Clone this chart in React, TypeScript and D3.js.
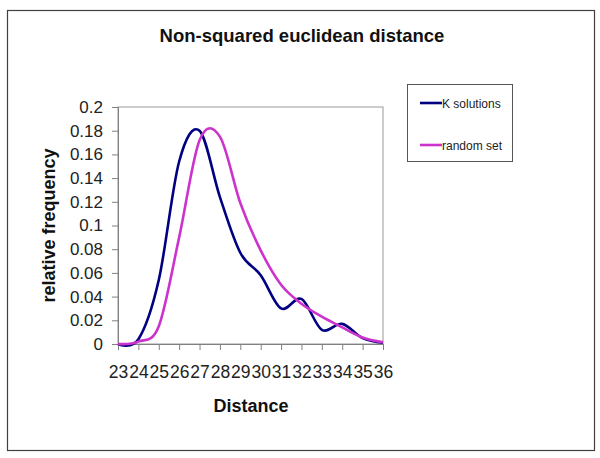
import React, { useEffect, useRef } from 'react';
import * as d3 from 'd3';

const distances = ['23', '24', '25', '26', '27', '28', '29', '30', '31', '32', '33', '34', '35', '36'];
const kSolutions = [0, 0.004, 0.054, 0.154, 0.180, 0.124, 0.077, 0.058, 0.030, 0.038, 0.012, 0.017, 0.005, 0.001];
const randomSet = [0, 0.002, 0.015, 0.090, 0.172, 0.175, 0.119, 0.079, 0.050, 0.034, 0.023, 0.014, 0.0055, 0.0014];
const yTicks = [0, 0.02, 0.04, 0.06, 0.08, 0.1, 0.12, 0.14, 0.16, 0.18, 0.2];

const seriesNames = ['K solutions', 'random set'];
const seriesColors = ['#000080', '#cc33cc'];

export default function App() {
  const svgRef = useRef<SVGSVGElement>(null);

  useEffect(() => {
    if (!svgRef.current) return;
    const width = 600;
    const height = 458;
    const font = '"Liberation Sans", Arial, sans-serif';

    const svg = d3.select(svgRef.current);
    svg.selectAll('*').remove();
    svg.attr('width', width).attr('height', height);

    svg.append('rect').attr('width', width).attr('height', height).attr('fill', '#fff');
    svg.append('rect')
      .attr('x', 7.5).attr('y', 10.5).attr('width', 587).attr('height', 440)
      .attr('fill', 'none').attr('stroke', '#404040').attr('stroke-width', 1.2);

    const left = 118, right = 383, top = 107, bottom = 344;

    const x = d3.scalePoint<string>().domain(distances).range([left, right]);
    const y = d3.scaleLinear().domain([0, 0.2]).range([bottom, top]);

    // plot area border
    svg.append('rect')
      .attr('x', left).attr('y', top).attr('width', right - left).attr('height', bottom - top)
      .attr('fill', 'none').attr('stroke', '#999').attr('stroke-width', 1);

    // y axis
    const yAxis = svg.append('g')
      .attr('transform', `translate(${left},0)`)
      .call(d3.axisLeft(y).tickValues(yTicks).tickSize(6).tickPadding(9).tickFormat(d => String(+d)));
    yAxis.select('.domain').attr('stroke', '#808080');
    yAxis.selectAll('.tick line').attr('stroke', '#808080');
    yAxis.selectAll('text')
      .attr('font-family', font).attr('font-size', 17).attr('fill', '#222');

    // x axis
    const xAxis = svg.append('g')
      .attr('transform', `translate(0,${bottom})`)
      .call(d3.axisBottom(x).tickSize(6).tickPadding(16));
    xAxis.select('.domain').attr('stroke', '#808080');
    xAxis.selectAll('.tick line').attr('stroke', '#808080');
    xAxis.selectAll('text')
      .attr('font-family', font).attr('font-size', 17.5).attr('fill', '#222');

    const line = d3.line<number>()
      .x((_, i) => x(distances[i]) as number)
      .y(d => y(d))
      .curve(d3.curveCardinal.tension(0));

    [kSolutions, randomSet].forEach((vals, i) => {
      svg.append('path')
        .datum(vals)
        .attr('d', line)
        .attr('fill', 'none')
        .attr('stroke', seriesColors[i])
        .attr('stroke-width', 2.6)
        .attr('stroke-linejoin', 'round');
    });

    // title
    svg.append('text')
      .attr('x', 302).attr('y', 42)
      .attr('text-anchor', 'middle')
      .attr('font-family', font).attr('font-size', 18.5).attr('font-weight', 'bold')
      .attr('fill', '#111')
      .text('Non-squared euclidean distance');

    svg.append('text')
      .attr('x', 251).attr('y', 412)
      .attr('text-anchor', 'middle')
      .attr('font-family', font).attr('font-size', 18).attr('font-weight', 'bold')
      .attr('fill', '#111')
      .text('Distance');

    svg.append('text')
      .attr('transform', `translate(55,${(top + bottom) / 2}) rotate(-90)`)
      .attr('text-anchor', 'middle')
      .attr('font-family', font).attr('font-size', 18).attr('font-weight', 'bold')
      .attr('fill', '#111')
      .text('relative frequency');

    // legend
    const lg = svg.append('g');
    lg.append('rect')
      .attr('x', 407.5).attr('y', 84.5).attr('width', 105).attr('height', 77)
      .attr('fill', '#fff').attr('stroke', '#555').attr('stroke-width', 1);
    seriesNames.forEach((name, i) => {
      const ly = 103 + i * 42;
      lg.append('line')
        .attr('x1', 420).attr('x2', 442).attr('y1', ly).attr('y2', ly)
        .attr('stroke', seriesColors[i]).attr('stroke-width', 2.6);
      lg.append('text')
        .attr('x', 442).attr('y', ly + 4.5)
        .attr('font-family', font).attr('font-size', 12).attr('fill', '#222')
        .text(name);
    });
  }, []);

  return (
    <div style={{ position: 'absolute', left: 0, top: 0 }}>
      <svg ref={svgRef} style={{ display: 'block' }}></svg>
    </div>
  );
}
